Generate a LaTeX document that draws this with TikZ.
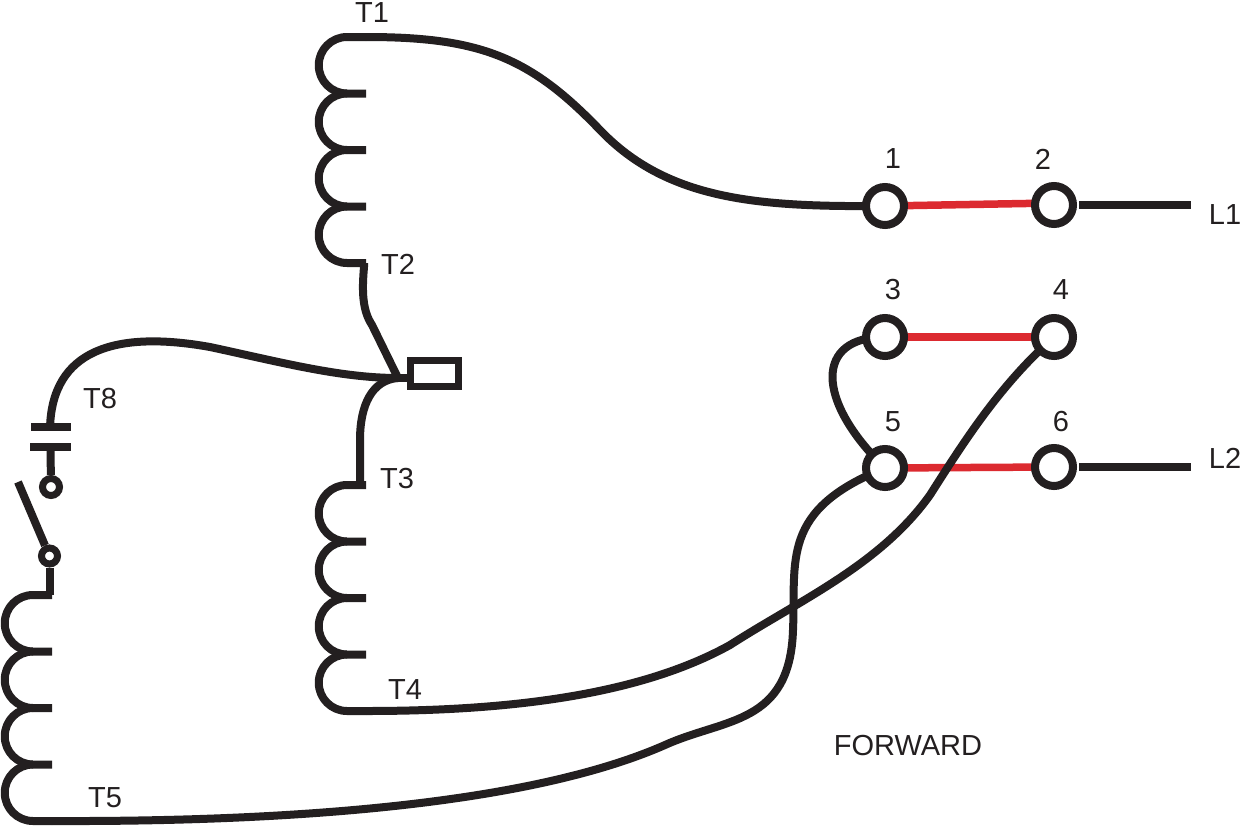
\documentclass[tikz,border=0pt]{standalone}
\usepackage{fontspec}
\setmainfont{Liberation Sans}
\definecolor{ink}{HTML}{231F20}
\definecolor{jump}{HTML}{DC2A30}
\tikzset{
  wire/.style={draw=ink,line width=8pt,line cap=butt,line join=round},
  redwire/.style={draw=jump,line width=7.5pt},
  terminal/.style={circle,draw=ink,line width=8pt,fill=white,minimum size=38pt,inner sep=0pt},
  smallterm/.style={circle,draw=ink,line width=7pt,fill=white,minimum size=#1,inner sep=0pt},
  lab/.style={font=\fontsize{29}{29}\selectfont,text=ink,inner sep=0pt},
  plate/.style={draw=ink,line width=8pt},
  lug/.style={rectangle,draw=ink,line width=7.5pt,fill=white,minimum width=48pt,minimum height=26pt,inner sep=0pt},
}
\newcommand{\coil}[3]{% x of stub end, top y, name
  \pgfmathsetmacro{\ya}{#2}\pgfmathsetmacro{\yb}{#2+56.5}\pgfmathsetmacro{\yc}{#2+113}\pgfmathsetmacro{\yd}{#2+169.5}\pgfmathsetmacro{\ye}{#2+226}
  \pgfmathsetmacro{\xs}{#1-19}
  \coordinate (#3a) at (#1,\ya);
  \coordinate (#3e) at (#1,\ye);
  \draw[wire] (#3a) -- (\xs,\ya) arc[start angle=270,end angle=90,radius=28.25] -- (#1,\yb);
  \draw[wire] (\xs,\yb) arc[start angle=270,end angle=90,radius=28.25] -- (#1,\yc);
  \draw[wire] (\xs,\yc) arc[start angle=270,end angle=90,radius=28.25] -- (#1,\yd);
  \draw[wire] (\xs,\yd) arc[start angle=270,end angle=90,radius=28.25] -- (#3e);
}
\begin{document}
\begin{tikzpicture}[x=1pt,y=-1pt]
\useasboundingbox (0,0) rectangle (1241,827);
% coils
\coil{366}{37}{A}
\coil{366}{485}{B}
\coil{52}{595}{C}
% terminal positions
\coordinate (t1p) at (885,206); \coordinate (t2p) at (1054,205);
\coordinate (t3p) at (885,337); \coordinate (t4p) at (1054,337);
\coordinate (t5p) at (885,468); \coordinate (t6p) at (1054,467);
\coordinate (J) at (398,378);
\coordinate (L1end) at (1191,205);
\coordinate (L2end) at (1191,467);
\coordinate (L1start) at (1079,205);
\coordinate (L2start) at (1079,467);
% red jumpers
\draw[redwire] (t1p) -- (1054,203);
\draw[redwire] (t3p) -- (t4p);
\draw[redwire] (t5p) -- (t6p);
% wires
\draw[wire] (Aa) .. controls (480,37) and (530,57) .. (600,130) .. controls (668,201) and (760,207) .. (t1p);
\draw[wire] (L1start) -- (L1end);
\draw[wire] (L2start) -- (L2end);
\draw[wire] (t3p) .. controls (815,337) and (815,400) .. (t5p);
\draw[wire] (Ae) ++(-2,0) -- ++(0,4) .. controls (362,290) and (362,310) .. (372,325) -- (J);
\draw[wire] (360,485) -- (360,440) .. controls (360,405) and (372,380) .. (J);
\draw[wire] (50,428) .. controls (52,350) and (115,330) .. (210,347) .. controls (280,362) and (340,378) .. (J);
\draw[wire] (J) -- (410,378);
\draw[wire] (Be) .. controls (510,711) and (640,695) .. (730,645) .. controls (800,600) and (880,565) .. (930,495) .. controls (965,440) and (1000,385) .. (t4p);
\draw[wire] (Ce) .. controls (320,822) and (540,800) .. (665,745) .. controls (725,718) and (790,725) .. (793,630) .. controls (796,560) and (780,510) .. (t5p);
% lug
\node[lug] (lug) at (434.5,373.5) {};
% capacitor contact and switch
\draw[plate] (31,427) -- (71,427);
\draw[plate] (30,447) -- (71,447);
\coordinate (capb) at (50.5,447);
\node[smallterm=17pt] (c1) at (51,487) {};
\node[smallterm=16pt] (c2) at (49.5,556) {};
\draw[wire] (capb) -- (c1);
\coordinate (blade) at (18,482);
\draw[wire] (blade) -- (c2);
\draw[wire] (c2) -- (c2 |- Ca);
% terminals
\node[terminal] (t1) at (t1p) {};
\node[terminal] (t2) at (t2p) {};
\node[terminal] (t3) at (t3p) {};
\node[terminal] (t4) at (t4p) {};
\node[terminal] (t5) at (t5p) {};
\node[terminal] (t6) at (t6p) {};
% labels
\node[lab] (lT1) at (372,13) {T1};
\node[lab] (lT2) at (398,264) {T2};
\node[lab] (lT3) at (397,479) {T3};
\node[lab] (lT4) at (405,690) {T4};
\node[lab] (lT5) at (105,798) {T5};
\node[lab] (lT8) at (100,399) {T8};
\node[lab] (n1) at (893,159) {1};
\node[lab] (n2) at (1043,159) {2};
\node[lab] (n3) at (893,290) {3};
\node[lab] (n4) at (1061,290) {4};
\node[lab] (n5) at (893,422) {5};
\node[lab] (n6) at (1061,422) {6};
\node[lab] (L1) at (1225,215) {L1};
\node[lab] (L2) at (1225,458) {L2};
\node[lab] (fw) at (908,746) {FORWARD};
\end{tikzpicture}
\end{document}
